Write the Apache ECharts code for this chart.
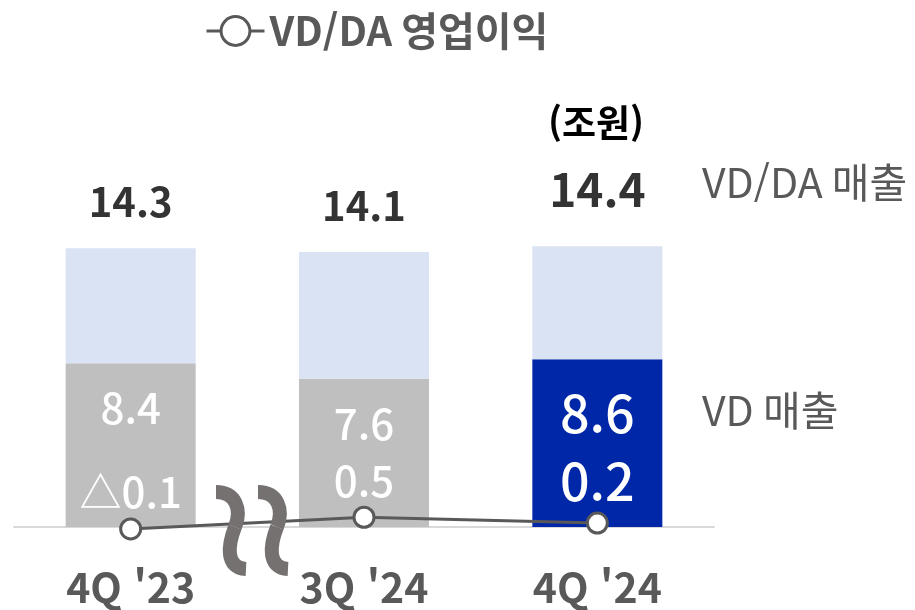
<!DOCTYPE html>
<html lang="ko">
  <head>
    <meta charset="UTF-8" />
    <title>VD/DA 매출 및 영업이익</title>
    <script src="https://cdn.jsdelivr.net/npm/echarts@6.0.0/dist/echarts.min.js"></script>
    <style>
      html, body { margin: 0; padding: 0; background: #fff; }
      #main { width: 915px; height: 610px; }
    </style>
  </head>
  <body>
    <div id="main"></div>

    <script>
      const categories = ["4Q '23", "3Q '24", "4Q '24"];
      const totalSales = [14.3, 14.1, 14.4]; // VD/DA 매출
      const vdSales = [8.4, 7.6, 8.6]; // VD 매출
      const opProfit = [-0.1, 0.5, 0.2]; // VD/DA 영업이익

      const font = "'Noto Sans CJK KR', 'Noto Sans', sans-serif";
      const textGray = '#595959';

      // DA 부분 = 전체 - VD
      const daPart = totalSales.map((t, i) => +(t - vdSales[i]).toFixed(1));

      const vdColors = ['#bfbfbf', '#bfbfbf', '#0027a8'];

      const fmtProfit = (v) => (v < 0 ? '△' + Math.abs(v) : String(v));

      // 축 생략 표시 (물결 두 개)
      function breakMark(dx) {
        const s = { stroke: '#767171', lineWidth: 14, fill: 'none' };
        return [
          {
            type: 'bezierCurve',
            z: 100,
            shape: { x1: 216 + dx, y1: 492, cpx1: 236 + dx, cpy1: 492, cpx2: 242 + dx, cpy2: 510, x2: 235 + dx, y2: 527 },
            style: s
          },
          {
            type: 'bezierCurve',
            z: 100,
            shape: { x1: 235 + dx, y1: 527, cpx1: 228 + dx, cpy1: 545, cpx2: 225 + dx, cpy2: 568, x2: 246 + dx, y2: 569 },
            style: s
          }
        ];
      }

      const option = {
        animation: false,
        textStyle: { fontFamily: font },
        grid: { left: 14, right: 201, top: 156.5, bottom: 63.5, outerBoundsMode: 'none', containLabel: false },
        legend: {
          data: ['VD/DA 영업이익'],
          left: 200,
          top: 6,
          itemWidth: 58,
          itemHeight: 36,
          itemGap: 0,
          lineStyle: { width: 3, color: textGray },
          itemStyle: { borderWidth: 3, borderColor: textGray, color: '#fff' },
          textStyle: { fontSize: 40, fontWeight: 'bold', color: textGray, fontFamily: font }
        },
        xAxis: {
          type: 'category',
          data: categories,
          axisTick: { show: false },
          axisLine: { lineStyle: { color: '#d9d9d9', width: 2 } },
          axisLabel: { margin: 20, fontSize: 41, fontWeight: 'bold', color: textGray, fontFamily: font }
        },
        yAxis: {
          type: 'value',
          min: -1,
          max: 19,
          show: false,
          splitLine: { show: false }
        },
        series: [
          {
            name: 'VD 매출',
            type: 'bar',
            stack: 'sales',
            barWidth: 130,
            data: vdSales.map((v, i) => ({
              value: v,
              itemStyle: { color: vdColors[i] },
              label: i === 2 ? { fontSize: 52, distance: 28 } : {}
            })),
            label: {
              show: true,
              position: 'insideTop',
              distance: 24,
              color: '#fff',
              fontSize: 42,
              fontWeight: 500,
              fontFamily: font
            }
          },
          {
            name: 'VD/DA 매출',
            type: 'bar',
            stack: 'sales',
            barWidth: 130,
            itemStyle: { color: '#dae3f3' },
            data: daPart.map((v, i) => ({
              value: v,
              label: i === 2 ? { fontSize: 46, distance: 34 } : {}
            })),
            label: {
              show: true,
              position: 'top',
              distance: 26,
              color: '#333',
              fontSize: 40,
              fontWeight: 'bold',
              fontFamily: font,
              formatter: (p) => totalSales[p.dataIndex].toFixed(1)
            }
          },
          {
            name: 'VD/DA 영업이익',
            type: 'line',
            data: opProfit.map((v, i) => ({
              value: v,
              label: i === 2 ? { fontSize: 52 } : {}
            })),
            z: 5,
            symbol: 'circle',
            symbolSize: 20,
            lineStyle: { color: textGray, width: 3 },
            itemStyle: { color: '#fff', borderColor: textGray, borderWidth: 3 },
            label: {
              show: true,
              position: 'top',
              distance: 4,
              color: '#fff',
              fontSize: 42,
              fontWeight: 500,
              fontFamily: font,
              formatter: (p) => fmtProfit(p.value)
            }
          }
        ],
        graphic: [
          {
            type: 'text',
            left: 548,
            top: 104,
            style: { text: '(조원)', fontSize: 37, fontWeight: 'bold', fill: '#000', fontFamily: font }
          },
          {
            type: 'text',
            left: 702,
            top: 162,
            style: { text: 'VD/DA 매출', fontSize: 41, fill: textGray, fontFamily: font }
          },
          {
            type: 'text',
            left: 702,
            top: 390,
            style: { text: 'VD 매출', fontSize: 41, fill: textGray, fontFamily: font }
          }
        ].concat(breakMark(0), breakMark(42))
      };

      const chart = echarts.init(document.getElementById('main'));
      chart.setOption(option);
    </script>
  </body>
</html>
